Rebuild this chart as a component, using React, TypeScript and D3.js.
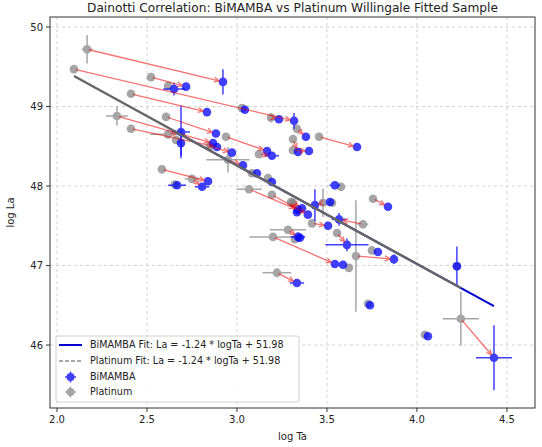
import * as d3 from 'd3'
import { FC } from 'react'

// Chart values
const platinumX = [2.167, 2.094, 2.522, 2.617, 2.411, 2.333, 2.606, 2.411, 2.617, 2.661, 2.939, 3.122, 2.950, 3.028, 3.189, 3.333, 3.311, 3.311, 3.456, 3.083, 3.172, 2.583, 2.750, 2.655, 3.067, 3.194, 3.311, 3.478, 3.528, 3.578, 3.756, 3.417, 3.700, 3.200, 3.283, 3.322, 3.556, 3.622, 3.661, 3.750, 3.222, 3.728, 4.044, 4.222, 4.244, 2.850, 3.300]
const platinumY = [49.72, 49.47, 49.37, 49.26, 49.16, 48.88, 48.87, 48.72, 48.65, 48.58, 48.62, 48.40, 48.33, 48.98, 48.86, 48.72, 48.59, 48.45, 48.62, 48.16, 48.10, 48.21, 48.09, 48.02, 47.96, 47.89, 47.79, 47.79, 47.79, 47.99, 47.84, 47.53, 47.52, 47.36, 47.45, 47.33, 47.41, 46.97, 47.12, 47.19, 46.91, 46.52, 46.13, 46.99, 46.33, 48.50, 47.80]
const platinumXErr = [0.03, 0.02, 0.02, 0.02, 0.02, 0.06, 0.02, 0.02, 0.1, 0.02, 0.02, 0.02, 0.12, 0.02, 0.02, 0.02, 0.02, 0.02, 0.02, 0.02, 0.02, 0.02, 0.04, 0.02, 0.07, 0.02, 0.02, 0.02, 0.02, 0.02, 0.02, 0.02, 0.03, 0.13, 0.1, 0.02, 0.02, 0.02, 0.02, 0.02, 0.08, 0.02, 0.02, 0.02, 0.1, 0.02, 0.02]
const platinumYErr = [0.18, 0.03, 0.03, 0.03, 0.03, 0.12, 0.03, 0.03, 0.03, 0.03, 0.03, 0.03, 0.16, 0.03, 0.06, 0.03, 0.03, 0.03, 0.05, 0.03, 0.03, 0.03, 0.05, 0.03, 0.04, 0.03, 0.03, 0.18, 0.03, 0.03, 0.03, 0.03, 0.05, 0.05, 0.03, 0.03, 0.03, 0.03, 0.7, 0.03, 0.06, 0.03, 0.03, 0.04, 0.34, 0.03, 0.03]

const bimambaX = [2.922, 3.317, 2.717, 2.650, 2.833, 2.867, 2.883, 2.889, 2.689, 2.689, 3.167, 3.194, 3.033, 3.044, 3.233, 3.383, 3.339, 3.400, 3.667, 3.111, 3.194, 2.839, 2.806, 2.667, 3.339, 3.394, 3.361, 3.433, 3.517, 3.544, 3.839, 3.506, 3.567, 3.544, 3.339, 3.350, 3.611, 3.589, 3.872, 3.783, 3.333, 3.739, 4.061, 4.222, 4.428, 2.972, 3.333]
const bimambaY = [49.31, 48.82, 49.25, 49.22, 48.93, 48.54, 48.66, 48.49, 48.68, 48.54, 48.44, 48.38, 48.26, 48.96, 48.84, 48.62, 48.43, 48.44, 48.49, 48.16, 48.05, 48.06, 47.99, 48.01, 47.70, 47.64, 47.72, 47.76, 47.80, 48.01, 47.74, 47.50, 47.58, 47.02, 47.36, 47.35, 47.26, 47.01, 47.08, 47.17, 46.78, 46.50, 46.11, 46.99, 45.84, 48.42, 47.67]
const bimambaXErr = [0.01, 0.02, 0.02, 0.06, 0.02, 0.02, 0.02, 0.02, 0.05, 0.02, 0.02, 0.04, 0.02, 0.02, 0.02, 0.02, 0.02, 0.02, 0.02, 0.02, 0.02, 0.02, 0.04, 0.05, 0.02, 0.02, 0.02, 0.02, 0.02, 0.03, 0.02, 0.02, 0.04, 0.02, 0.04, 0.02, 0.12, 0.02, 0.02, 0.02, 0.04, 0.02, 0.02, 0.02, 0.1, 0.02, 0.02]
const bimambaYErr = [0.16, 0.1, 0.03, 0.08, 0.03, 0.03, 0.03, 0.03, 0.33, 0.16, 0.03, 0.03, 0.03, 0.03, 0.03, 0.03, 0.03, 0.03, 0.03, 0.03, 0.03, 0.03, 0.04, 0.03, 0.03, 0.03, 0.03, 0.2, 0.03, 0.05, 0.03, 0.03, 0.08, 0.03, 0.06, 0.03, 0.08, 0.03, 0.06, 0.03, 0.03, 0.03, 0.03, 0.25, 0.41, 0.03, 0.03]

const FIT_SLOPE = -1.24
const FIT_INTERCEPT = 51.98

const xTicks = [2.0, 2.5, 3.0, 3.5, 4.0, 4.5]
const yTicks = [46, 47, 48, 49, 50]

const TITLE = 'Dainotti Correlation: BiMAMBA vs Platinum Willingale Fitted Sample'
const legendLabels = [
  `BiMAMBA Fit: La = ${FIT_SLOPE.toFixed(2)} * logTa + ${FIT_INTERCEPT.toFixed(2)}`,
  `Platinum Fit: La = ${FIT_SLOPE.toFixed(2)} * logTa + ${FIT_INTERCEPT.toFixed(2)}`,
  'BiMAMBA',
  'Platinum',
]


const WIDTH = 542
const HEIGHT = 447
const MARGIN = { top: 17, right: 7, bottom: 39, left: 50 }
const FONT = 'DejaVu Sans, sans-serif'
const BLUE = '#0000ff'
const GREY = '#808080'


type Series = { x: number[]; y: number[]; xe: number[]; ye: number[]; color: string; opacity: number }


const App: FC = () => {
  const boundsWidth = WIDTH - MARGIN.left - MARGIN.right
  const boundsHeight = HEIGHT - MARGIN.top - MARGIN.bottom

  const xScale = d3.scaleLinear().domain([1.961, 4.656]).range([0, boundsWidth])
  const yScale = d3.scaleLinear().domain([45.208, 50.126]).range([boundsHeight, 0])

  const fitLine = d3
    .line<number>()
    .x((d) => xScale(d))
    .y((d) => yScale(FIT_SLOPE * d + FIT_INTERCEPT))

  const bimambaExtent = d3.extent(bimambaX) as [number, number]
  const platinumExtent = d3.extent(platinumX) as [number, number]

  const drawSeries = (s: Series, key: string) =>
    s.x.map((xv, i) => {
      const cx = xScale(xv)
      const cy = yScale(s.y[i])
      return (
        <g key={ key + i } opacity={ s.opacity }>
          <line x1={ xScale(xv - s.xe[i]) } x2={ xScale(xv + s.xe[i]) } y1={ cy } y2={ cy } stroke={ s.color } strokeWidth={ 1.5 } />
          <line x1={ cx } x2={ cx } y1={ yScale(s.y[i] - s.ye[i]) } y2={ yScale(s.y[i] + s.ye[i]) } stroke={ s.color } strokeWidth={ 1.5 } />
          <circle cx={ cx } cy={ cy } r={ 4.3 } fill={ s.color } />
        </g>
      )
    })

  // Arrows from every Platinum point to its BiMAMBA counterpart
  const arrows = platinumX.map((px, i) => {
    const x1 = xScale(px)
    const y1 = yScale(platinumY[i])
    const x2 = xScale(bimambaX[i])
    const y2 = yScale(bimambaY[i])
    const len = Math.hypot(x2 - x1, y2 - y1)
    if (len < 8) return null
    const ux = (x2 - x1) / len
    const uy = (y2 - y1) / len
    const sx = x1 + ux * 2
    const sy = y1 + uy * 2
    const ex = x2 - ux * 4
    const ey = y2 - uy * 4
    const h = 5
    const w = 2.5
    const head = `M${ex - ux * h + uy * w},${ey - uy * h - ux * w}L${ex},${ey}L${ex - ux * h - uy * w},${ey - uy * h + ux * w}`
    return (
      <g key={ 'a' + i } stroke='#f00000' opacity={ 0.55 } fill='none' strokeWidth={ 1.3 }>
        <line x1={ sx } y1={ sy } x2={ ex } y2={ ey } />
        <path d={ head } />
      </g>
    )
  })

  const legendX = 6
  const legendY = boundsHeight - 72
  const rowY = [9, 25, 41, 56]

  return (
    <div style={{ position: 'absolute', left: 0, top: 0 }}>
      <svg width={ WIDTH } height={ HEIGHT } style={{ display: 'block', background: '#fff' }} fontFamily={ FONT }>
        <text x={ MARGIN.left + boundsWidth / 2 } y={ 12 } textAnchor='middle' fontSize={ 12.2 } fill='#222'>
          { TITLE }
        </text>
        <g transform={ `translate(${MARGIN.left},${MARGIN.top})` }>
          { xTicks.map((t) => (
            <line key={ 'gx' + t } x1={ xScale(t) } x2={ xScale(t) } y1={ 0 } y2={ boundsHeight } stroke='#c8c8c8' strokeDasharray='3,3' strokeWidth={ 0.8 } />
          )) }
          { yTicks.map((t) => (
            <line key={ 'gy' + t } x1={ 0 } x2={ boundsWidth } y1={ yScale(t) } y2={ yScale(t) } stroke='#c8c8c8' strokeDasharray='3,3' strokeWidth={ 0.8 } />
          )) }

          { drawSeries({ x: platinumX, y: platinumY, xe: platinumXErr, ye: platinumYErr, color: GREY, opacity: 0.7 }, 'p') }
          { drawSeries({ x: bimambaX, y: bimambaY, xe: bimambaXErr, ye: bimambaYErr, color: BLUE, opacity: 0.75 }, 'b') }
          { arrows }

          <path d={ fitLine(bimambaExtent) as string } stroke='#0000cc' strokeWidth={ 2 } fill='none' />
          <path d={ fitLine(platinumExtent) as string } stroke='#666' strokeWidth={ 2.4 } fill='none' />

          <rect x={ 0 } y={ 0 } width={ boundsWidth } height={ boundsHeight } fill='none' stroke='#333' strokeWidth={ 1 } />

          { xTicks.map((t) => (
            <g key={ 'tx' + t } transform={ `translate(${xScale(t)},${boundsHeight})` }>
              <line y2={ 4 } stroke='#333' />
              <text y={ 15 } textAnchor='middle' fontSize={ 10 } fill='#222'>{ t.toFixed(1) }</text>
            </g>
          )) }
          { yTicks.map((t) => (
            <g key={ 'ty' + t } transform={ `translate(0,${yScale(t)})` }>
              <line x2={ -4 } stroke='#333' />
              <text x={ -7 } dy='0.35em' textAnchor='end' fontSize={ 10 } fill='#222'>{ t }</text>
            </g>
          )) }

          <text x={ boundsWidth / 2 } y={ boundsHeight + 32 } textAnchor='middle' fontSize={ 10 } fill='#222'>log Ta</text>
          <text transform={ `translate(${-36},${boundsHeight / 2}) rotate(-90)` } textAnchor='middle' fontSize={ 10 } fill='#222'>log La</text>

          <g transform={ `translate(${legendX},${legendY})` } fontSize={ 9.6 } fill='#222'>
            <rect x={ 0 } y={ 0 } width={ 243 } height={ 66 } rx={ 2 } fill='#fff' fillOpacity={ 0.85 } stroke='#d0d0d0' />
            <line x1={ 3 } x2={ 26 } y1={ rowY[0] } y2={ rowY[0] } stroke='#0000cc' strokeWidth={ 2 } />
            <line x1={ 3 } x2={ 26 } y1={ rowY[1] } y2={ rowY[1] } stroke='#555' strokeWidth={ 1.2 } strokeDasharray='4,2' />
            <g opacity={ 0.75 }>
              <line x1={ 9 } x2={ 20 } y1={ rowY[2] } y2={ rowY[2] } stroke={ BLUE } strokeWidth={ 1.5 } />
              <line x1={ 14.5 } x2={ 14.5 } y1={ rowY[2] - 5.5 } y2={ rowY[2] + 5.5 } stroke={ BLUE } strokeWidth={ 1.5 } />
              <circle cx={ 14.5 } cy={ rowY[2] } r={ 4 } fill={ BLUE } />
            </g>
            <g opacity={ 0.7 }>
              <line x1={ 9 } x2={ 20 } y1={ rowY[3] } y2={ rowY[3] } stroke={ GREY } strokeWidth={ 1.5 } />
              <line x1={ 14.5 } x2={ 14.5 } y1={ rowY[3] - 5.5 } y2={ rowY[3] + 5.5 } stroke={ GREY } strokeWidth={ 1.5 } />
              <circle cx={ 14.5 } cy={ rowY[3] } r={ 4 } fill={ GREY } />
            </g>
            { legendLabels.map((label, i) => (
              <text key={ label } x={ 34 } y={ rowY[i] } dy='0.35em'>{ label }</text>
            )) }
          </g>
        </g>
      </svg>
    </div>
  )
}


export default App
